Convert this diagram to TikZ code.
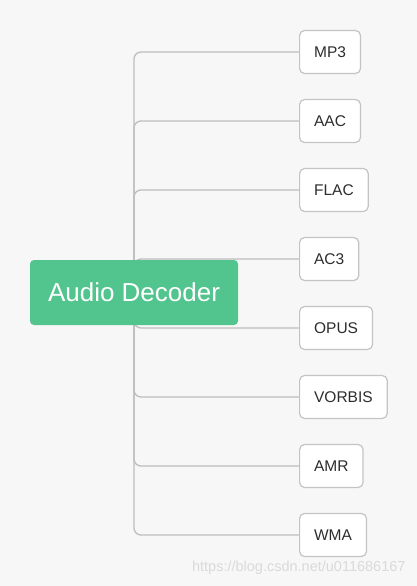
\documentclass[tikz,border=0pt]{standalone}
\usepackage{fontspec}
\setmainfont{Liberation Sans}
\usetikzlibrary{positioning}
\definecolor{paper}{RGB}{247,247,247}
\definecolor{rootgreen}{RGB}{82,196,142}
\definecolor{edgegray}{RGB}{190,190,190}
\definecolor{boxgray}{RGB}{196,196,196}
\definecolor{markgray}{RGB}{218,218,218}
\definecolor{leaftext}{RGB}{45,45,45}
\pgfdeclarelayer{bg}
\pgfdeclarelayer{lines}
\pgfsetlayers{bg,lines,main}
\tikzset{
  rootbox/.style={fill=rootgreen,text=white,rounded corners=4pt,minimum width=208pt,minimum height=65pt,font=\fontsize{26}{29}\selectfont},
  leafbox/.style={draw=boxgray,line width=1.2pt,fill=white,text=leaftext,rounded corners=5pt,minimum height=43pt,inner xsep=14.5pt,anchor=west,font=\fontsize{15.5}{18}\selectfont},
  branch/.style={draw=edgegray,line width=1.3pt,rounded corners=7pt}
}
\begin{document}
\begin{tikzpicture}[x=1pt,y=-1pt]
 \begin{pgfonlayer}{bg}
 \fill[paper](0,0) rectangle (417,586);
 \end{pgfonlayer}
 \node[rootbox] (root) at (134,292.5) {Audio Decoder};
 % leaves
 \foreach \name/\lbl [count=\i] in {mp3/MP3,aac/AAC,flac/FLAC,ac3/AC3,opus/OPUS,vorbis/VORBIS,amr/AMR,wma/WMA}
   \node[leafbox] (\name) at (299,{52+69*(\i-1)}) {\lbl};
 \begin{pgfonlayer}{lines}
 \foreach \name in {mp3,aac,flac,ac3,opus,vorbis,amr,wma}
   \draw[branch] (root.center) |- (\name.west);
 \end{pgfonlayer}
 \node[text=markgray,anchor=east,font=\fontsize{14.5}{17}\selectfont] (mark) at (409,568) {https://blog.csdn.net/u011686167};
\end{tikzpicture}
\end{document}
